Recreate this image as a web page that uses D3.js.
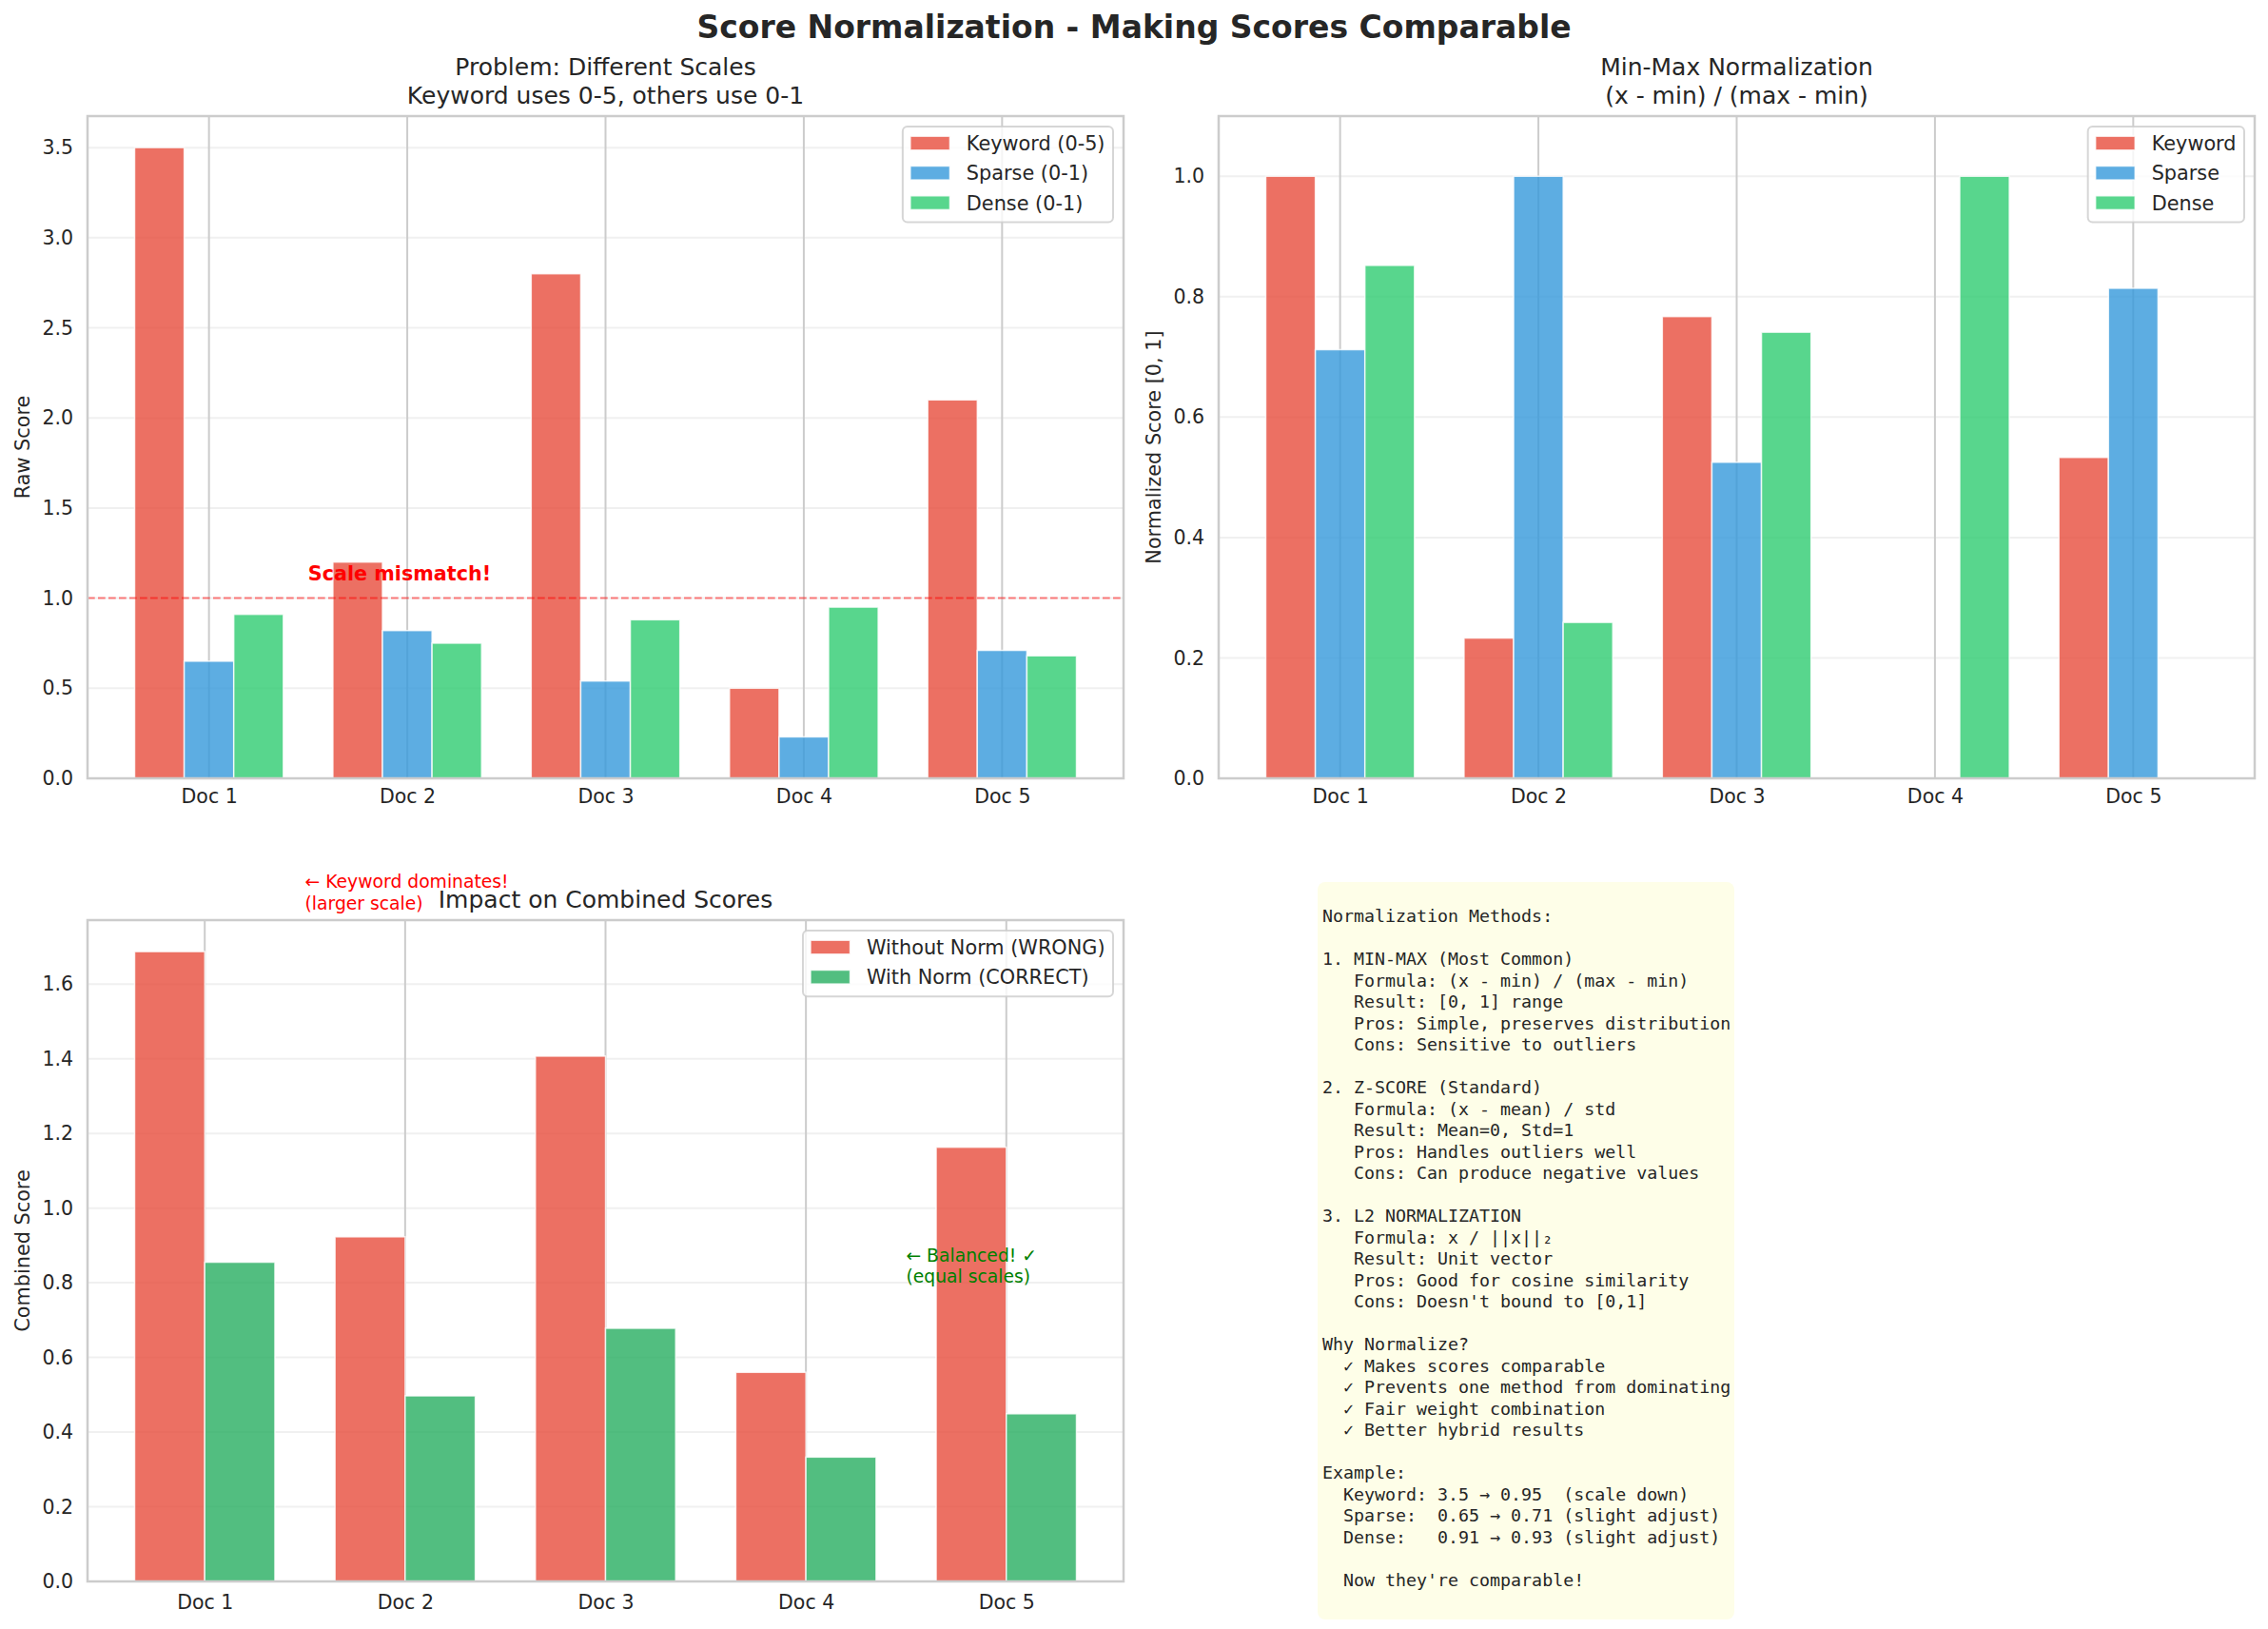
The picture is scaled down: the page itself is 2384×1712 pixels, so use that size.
<!DOCTYPE html>
<html>
<head>
<meta charset="utf-8">
<script src="https://cdn.jsdelivr.net/npm/d3@7"></script>
<style>
body { margin: 0; background: #fff; }
text { font-family: "DejaVu Sans", sans-serif; fill: #262626; }
</style>
</head>
<body>
<svg width="2384" height="1712"></svg>
<script>
var docs = ["Doc 1", "Doc 2", "Doc 3", "Doc 4", "Doc 5"];

// raw scores (keyword on 0-5, others on 0-1)
var keywordRaw = [3.5, 1.2, 2.8, 0.5, 2.1];
var sparseRaw = [0.65, 0.82, 0.54, 0.23, 0.71];
var denseRaw = [0.91, 0.75, 0.88, 0.95, 0.68];

// min-max normalized
var keywordNorm = [1.0, 0.233, 0.767, 0.0, 0.533];
var sparseNorm = [0.712, 1.0, 0.525, 0.0, 0.814];
var denseNorm = [0.852, 0.259, 0.741, 1.0, 0.0];

// combined
var combinedRaw = [1.687, 0.923, 1.407, 0.560, 1.163];
var combinedNorm = [0.855, 0.497, 0.678, 0.333, 0.449];

var rawTicks = [0, 0.5, 1.0, 1.5, 2.0, 2.5, 3.0, 3.5];
var normTicks = [0, 0.2, 0.4, 0.6, 0.8, 1.0];
var combTicks = [0, 0.2, 0.4, 0.6, 0.8, 1.0, 1.2, 1.4, 1.6];

var infoLines = [
  "Normalization Methods:",
  "",
  "1. MIN-MAX (Most Common)",
  "   Formula: (x - min) / (max - min)",
  "   Result: [0, 1] range",
  "   Pros: Simple, preserves distribution",
  "   Cons: Sensitive to outliers",
  "",
  "2. Z-SCORE (Standard)",
  "   Formula: (x - mean) / std",
  "   Result: Mean=0, Std=1",
  "   Pros: Handles outliers well",
  "   Cons: Can produce negative values",
  "",
  "3. L2 NORMALIZATION",
  "   Formula: x / ||x||\u2082",
  "   Result: Unit vector",
  "   Pros: Good for cosine similarity",
  "   Cons: Doesn't bound to [0,1]",
  "",
  "Why Normalize?",
  "  \u2713 Makes scores comparable",
  "  \u2713 Prevents one method from dominating",
  "  \u2713 Fair weight combination",
  "  \u2713 Better hybrid results",
  "",
  "Example:",
  "  Keyword: 3.5 \u2192 0.95  (scale down)",
  "  Sparse:  0.65 \u2192 0.71 (slight adjust)",
  "  Dense:   0.91 \u2192 0.93 (slight adjust)",
  "",
  "  Now they're comparable!"
];

var svg = d3.select("svg");
svg.append("rect").attr("width", 2384).attr("height", 1712).attr("fill", "#fff");

svg.append("text")
    .attr("x", 1192).attr("y", 40)
    .attr("text-anchor", "middle")
    .attr("font-weight", "bold")
    .attr("font-size", 33)
    .text("Score Normalization - Making Scores Comparable");

function panel(cfg) {
  var g = svg.append("g");
  var x = d3.scaleLinear().domain(cfg.xdom).range([cfg.left, cfg.right]);
  var y = d3.scaleLinear().domain([0, cfg.ymax]).range([cfg.bottom, cfg.top]);

  // y grid (faded) and x grid
  g.append("g").selectAll("line")
    .data(cfg.yticks)
    .enter().append("line")
      .attr("x1", cfg.left).attr("x2", cfg.right)
      .attr("y1", function(d) { return y(d); })
      .attr("y2", function(d) { return y(d); })
      .attr("stroke", "#cccccc").attr("stroke-opacity", 0.3).attr("stroke-width", 2);
  g.append("g").selectAll("line")
    .data(d3.range(docs.length))
    .enter().append("line")
      .attr("x1", function(d) { return x(d); })
      .attr("x2", function(d) { return x(d); })
      .attr("y1", cfg.top).attr("y2", cfg.bottom)
      .attr("stroke", "#cccccc").attr("stroke-width", 2);

  // bars
  var bw = x(cfg.barWidth) - x(0);
  cfg.series.forEach(function(s) {
    g.append("g").selectAll("rect")
      .data(s.values)
      .enter().append("rect")
        .attr("x", function(d, i) { return x(i + s.offset - cfg.barWidth / 2); })
        .attr("width", bw)
        .attr("y", function(d) { return y(d); })
        .attr("height", function(d) { return y(0) - y(d); })
        .attr("fill", s.color).attr("fill-opacity", 0.8)
        .attr("stroke", "#fff").attr("stroke-opacity", 0.8).attr("stroke-width", 1.5);
  });

  // axes
  var yAxis = d3.axisLeft(y)
      .tickValues(cfg.yticks)
      .tickFormat(d3.format(".1f"))
      .tickSize(0)
      .tickPadding(15);
  var ya = g.append("g")
      .attr("transform", "translate(" + cfg.left + ",0)")
      .call(yAxis);
  ya.select(".domain").remove();
  ya.selectAll("text").attr("font-size", 20.5).attr("font-family", "DejaVu Sans").attr("fill", "#262626");

  var xAxis = d3.axisBottom(x)
      .tickValues(d3.range(docs.length))
      .tickFormat(function(i) { return docs[i]; })
      .tickSize(0)
      .tickPadding(cfg.xpad);
  var xa = g.append("g")
      .attr("transform", "translate(0," + cfg.bottom + ")")
      .call(xAxis);
  xa.select(".domain").remove();
  xa.selectAll("text").attr("font-size", 20.5).attr("font-family", "DejaVu Sans").attr("fill", "#262626");

  // titles
  cfg.title.forEach(function(t, k) {
    g.append("text")
        .attr("x", (cfg.left + cfg.right) / 2)
        .attr("y", cfg.top - 13 - (cfg.title.length - 1 - k) * 30)
        .attr("text-anchor", "middle")
        .attr("font-size", 25)
        .text(t);
  });

  g.append("text")
      .attr("transform", "translate(" + (cfg.left - 68.5) + "," + ((cfg.top + cfg.bottom) / 2) + ") rotate(-90)")
      .attr("text-anchor", "middle")
      .attr("dy", "0.35em")
      .attr("font-size", 20.8)
      .text(cfg.ylabel);

  return { g: g, x: x, y: y };
}

function spines(cfg) {
  svg.append("rect")
      .attr("x", cfg.left).attr("y", cfg.top)
      .attr("width", cfg.right - cfg.left).attr("height", cfg.bottom - cfg.top)
      .attr("fill", "none").attr("stroke", "#cccccc").attr("stroke-width", 2.5);
}

function legend(cfg) {
  var lg = svg.append("g");
  var box = lg.append("rect");
  var rowTop = cfg.top + 11;
  var labels = [];
  cfg.series.forEach(function(s, k) {
    var cy = rowTop + 17.5 + k * 31.3;
    lg.append("rect")
        .attr("x", 0).attr("y", cy - 7.3)
        .attr("width", 41.6).attr("height", 14.6)
        .attr("fill", s.color).attr("fill-opacity", 0.8)
        .attr("stroke", "#fff").attr("stroke-opacity", 0.8).attr("stroke-width", 1.5)
        .attr("class", "sw");
    labels.push(lg.append("text")
        .attr("x", 59).attr("y", cy + 7.5)
        .attr("font-size", 20.8)
        .text(s.label));
  });
  var maxW = d3.max(labels, function(t) { return t.node().getComputedTextLength(); });
  var w = 8 + 59 + maxW + 8.5;
  var h = 17.5 + (cfg.series.length - 1) * 31.3 + 20.5;
  var left = cfg.right - 11 - w;
  lg.selectAll(".sw").attr("x", left + 8);
  labels.forEach(function(t) { t.attr("x", left + 8 + 59); });
  box.attr("x", left).attr("y", rowTop)
      .attr("width", w).attr("height", h)
      .attr("rx", 5)
      .attr("fill", "#fff").attr("fill-opacity", 0.8)
      .attr("stroke", "#cccccc").attr("stroke-opacity", 0.8).attr("stroke-width", 2);
}

// panel 1: raw scores
var p1cfg = {
  left: 92, right: 1181, top: 122, bottom: 818, xpad: 11.5,
  xdom: [-0.6125, 4.6125], ymax: d3.max(keywordRaw) * 1.05,
  yticks: rawTicks, barWidth: 0.25,
  title: ["Problem: Different Scales", "Keyword uses 0-5, others use 0-1"],
  ylabel: "Raw Score",
  series: [
    { label: "Keyword (0-5)", values: keywordRaw, color: "#e74c3c", offset: -0.25 },
    { label: "Sparse (0-1)", values: sparseRaw, color: "#3498db", offset: 0 },
    { label: "Dense (0-1)", values: denseRaw, color: "#2ecc71", offset: 0.25 }
  ]
};
var p1 = panel(p1cfg);
p1.g.append("line")
    .attr("x1", p1cfg.left).attr("x2", p1cfg.right)
    .attr("y1", p1.y(1.0)).attr("y2", p1.y(1.0))
    .attr("stroke", "red").attr("stroke-opacity", 0.5)
    .attr("stroke-width", 2).attr("stroke-dasharray", "7.7,3.3");
p1.g.append("text")
    .attr("x", p1.x(0.5)).attr("y", p1.y(1.1))
    .attr("font-size", 20.7).attr("font-weight", "bold")
    .style("fill", "red")
    .text("Scale mismatch!");
spines(p1cfg);
legend(p1cfg);

// panel 2: min-max normalized
var p2cfg = {
  left: 1281, right: 2370, top: 122, bottom: 818, xpad: 11.5,
  xdom: [-0.6125, 4.6125], ymax: 1.1,
  yticks: normTicks, barWidth: 0.25,
  title: ["Min-Max Normalization", "(x - min) / (max - min)"],
  ylabel: "Normalized Score [0, 1]",
  series: [
    { label: "Keyword", values: keywordNorm, color: "#e74c3c", offset: -0.25 },
    { label: "Sparse", values: sparseNorm, color: "#3498db", offset: 0 },
    { label: "Dense", values: denseNorm, color: "#2ecc71", offset: 0.25 }
  ]
};
panel(p2cfg);
spines(p2cfg);
legend(p2cfg);

// panel 3: combined
var p3cfg = {
  left: 92, right: 1181, top: 967, bottom: 1662, xpad: 14,
  xdom: [-0.585, 4.585], ymax: d3.max(combinedRaw) * 1.05,
  yticks: combTicks, barWidth: 0.35,
  title: ["Impact on Combined Scores"],
  ylabel: "Combined Score",
  series: [
    { label: "Without Norm (WRONG)", values: combinedRaw, color: "#e74c3c", offset: -0.175 },
    { label: "With Norm (CORRECT)", values: combinedNorm, color: "#27ae60", offset: 0.175 }
  ]
};
var p3 = panel(p3cfg);
function note(px, py, lines, color) {
  lines.forEach(function(t, k) {
    p3.g.append("text")
        .attr("x", p3.x(px))
        .attr("y", p3.y(py) - (lines.length - 1 - k) * 22.5)
        .attr("font-size", 18.75)
        .style("fill", color)
        .text(t);
  });
}
note(0.5, 1.8, ["\u2190 Keyword dominates!", "(larger scale)"], "red");
note(3.5, 0.8, ["\u2190 Balanced! \u2713", "(equal scales)"], "green");
spines(p3cfg);
legend(p3cfg);

// info text box
var tb = svg.append("g");
tb.append("rect")
    .attr("x", 1385).attr("y", 927)
    .attr("width", 438).attr("height", 775)
    .attr("rx", 8)
    .attr("fill", "#fefee8");
tb.selectAll("text.info")
  .data(infoLines)
  .enter().append("text")
    .attr("class", "info")
    .attr("x", 1390)
    .attr("y", function(d, i) { return 969 + i * 22.5; })
    .attr("font-size", 18.3)
    .style("font-family", "'DejaVu Sans Mono', monospace")
    .style("white-space", "pre")
    .attr("xml:space", "preserve")
    .text(function(d) { return d; });
</script>
</body>
</html>
